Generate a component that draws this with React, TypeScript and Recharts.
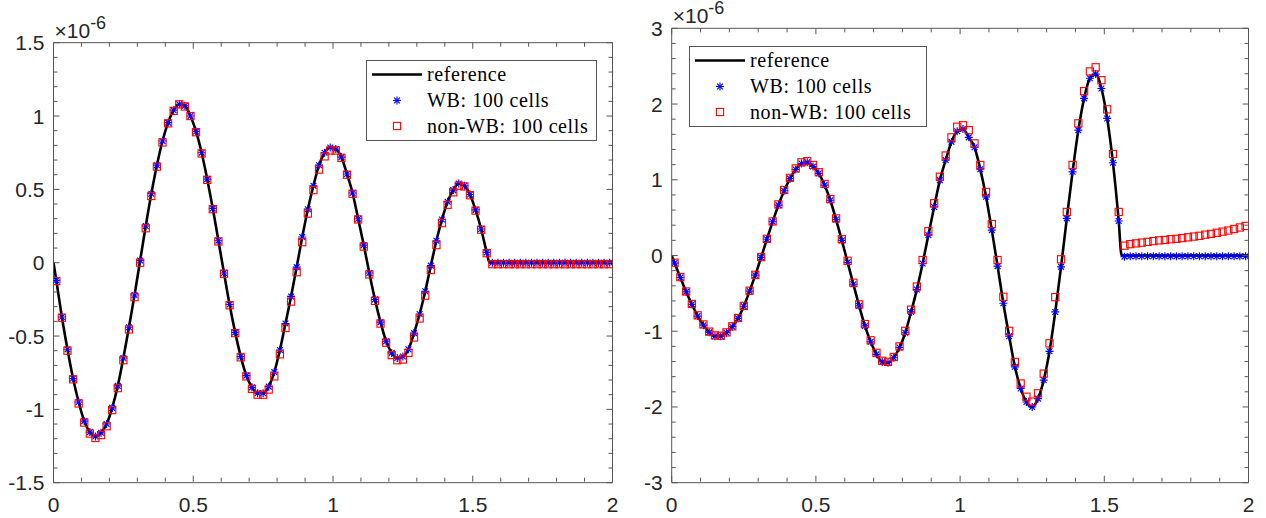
import React from "react";
import { ComposedChart, Line, Scatter, XAxis, YAxis, Legend } from "recharts";

// cell centres of the 100-cell grid on [0, 2]
const cellX = Array.from({ length: 100 }, (_, i) => Math.round((0.01 + 0.02 * i) * 100) / 100);

const xLabels = [0, 0.5, 1, 1.5, 2];
const leftYLabels = [-1.5, -1, -0.5, 0, 0.5, 1, 1.5];
const rightYLabels = [-3, -2, -1, 0, 1, 2, 3];
const seriesNames = ["reference", "WB: 100 cells", "non-WB: 100 cells"];
const jumpX = 1.56; // where the reference drops to zero

// values in units of 1e-6
const leftWB = [
  -0.12, -0.37, -0.59, -0.79, -0.95, -1.08, -1.155, -1.185, -1.16, -1.1,
  -0.99, -0.84, -0.65, -0.44, -0.22, 0.015, 0.25, 0.47, 0.665, 0.83,
  0.955, 1.04, 1.08, 1.07, 1.0, 0.895, 0.75, 0.57, 0.37, 0.15,
  -0.07, -0.285, -0.475, -0.64, -0.77, -0.85, -0.89, -0.89, -0.845, -0.745,
  -0.595, -0.415, -0.23, -0.03, 0.175, 0.365, 0.525, 0.665, 0.75, 0.785,
  0.775, 0.72, 0.605, 0.475, 0.3, 0.12, -0.07, -0.25, -0.405, -0.535,
  -0.615, -0.65, -0.64, -0.59, -0.48, -0.35, -0.195, -0.02, 0.15, 0.295,
  0.415, 0.495, 0.54, 0.525, 0.465, 0.36, 0.23, 0.07, 0, 0,
  0, 0, 0, 0, 0, 0, 0, 0, 0, 0,
  0, 0, 0, 0, 0, 0, 0, 0, 0, 0,
];
const leftNonWB = [
  -0.125, -0.375, -0.6, -0.795, -0.96, -1.09, -1.165, -1.195, -1.175, -1.115,
  -1.005, -0.855, -0.665, -0.455, -0.235, 0.0, 0.235, 0.455, 0.655, 0.82,
  0.95, 1.035, 1.08, 1.065, 1.0, 0.89, 0.745, 0.565, 0.365, 0.145,
  -0.075, -0.29, -0.48, -0.645, -0.775, -0.86, -0.9, -0.9, -0.865, -0.775,
  -0.625, -0.445, -0.265, -0.065, 0.14, 0.335, 0.495, 0.635, 0.725, 0.765,
  0.765, 0.715, 0.6, 0.47, 0.295, 0.11, -0.08, -0.26, -0.415, -0.545,
  -0.63, -0.665, -0.66, -0.615, -0.51, -0.38, -0.225, -0.05, 0.12, 0.27,
  0.395, 0.48, 0.525, 0.52, 0.46, 0.355, 0.225, 0.065, -0.01, -0.01,
  -0.01, -0.01, -0.01, -0.01, -0.01, -0.01, -0.01, -0.01, -0.01, -0.01,
  -0.01, -0.01, -0.01, -0.01, -0.01, -0.01, -0.01, -0.01, -0.01, -0.01,
];
const rightWB = [
  -0.1, -0.29, -0.48, -0.645, -0.8, -0.92, -1.015, -1.065, -1.065, -1.02,
  -0.94, -0.83, -0.67, -0.47, -0.26, -0.025, 0.215, 0.445, 0.665, 0.855,
  1.015, 1.135, 1.215, 1.23, 1.175, 1.085, 0.93, 0.73, 0.475, 0.2,
  -0.09, -0.38, -0.665, -0.93, -1.14, -1.305, -1.405, -1.415, -1.35, -1.215,
  -1.02, -0.745, -0.45, -0.105, 0.27, 0.64, 0.995, 1.26, 1.5, 1.64,
  1.67, 1.56, 1.43, 1.14, 0.775, 0.335, -0.14, -0.63, -1.065, -1.47,
  -1.755, -1.935, -2.0, -1.89, -1.645, -1.265, -0.745, -0.15, 0.49, 1.105,
  1.655, 2.075, 2.34, 2.395, 2.205, 1.81, 1.225, 0.455, -0.015, -0.01,
  -0.01, -0.01, -0.01, -0.01, -0.01, -0.01, -0.01, -0.01, -0.01, -0.01,
  -0.01, -0.01, -0.01, -0.01, -0.01, -0.01, -0.01, -0.01, -0.01, -0.01,
];
const rightNonWB = [
  -0.095, -0.285, -0.475, -0.64, -0.79, -0.91, -1.005, -1.055, -1.06, -1.015,
  -0.935, -0.825, -0.665, -0.465, -0.255, -0.02, 0.22, 0.45, 0.675, 0.865,
  1.025, 1.15, 1.23, 1.245, 1.195, 1.1, 0.945, 0.745, 0.49, 0.215,
  -0.07, -0.36, -0.645, -0.905, -1.12, -1.285, -1.39, -1.405, -1.34, -1.2,
  -0.995, -0.715, -0.41, -0.06, 0.32, 0.69, 1.04, 1.32, 1.56, 1.7,
  1.72, 1.655, 1.48, 1.195, 0.84, 0.415, -0.06, -0.545, -0.995, -1.405,
  -1.69, -1.865, -1.93, -1.82, -1.56, -1.16, -0.55, -0.05, 0.575, 1.195,
  1.745, 2.17, 2.43, 2.485, 2.315, 1.93, 1.34, 0.575, 0.13, 0.15,
  0.16, 0.17, 0.18, 0.19, 0.2, 0.205, 0.215, 0.22, 0.23, 0.24,
  0.25, 0.26, 0.275, 0.285, 0.3, 0.315, 0.33, 0.35, 0.37, 0.39,
];

const AXIS = "#555555";
const TEXT = "#262626";
const SANS = "'Liberation Sans', Arial, Helvetica, sans-serif";
const SERIF = "'Liberation Serif', 'Times New Roman', serif";
const AX = 1; // thickness given to each axis box (a 0-sized axis is not drawn)

const toPoints = (xs: number[], ys: number[]) => xs.map((x, i) => ({ x, y: ys[i] }));

// the black curve runs through the WB stars up to the jump, then sits on zero
const refPoints = (wb: number[]) => {
  const n = cellX.filter((x) => x < jumpX).length;
  return toPoints([0, ...cellX.slice(0, n), jumpX, 2], [0, ...wb.slice(0, n), 0, 0]);
};

const steps = (lo: number, hi: number, step: number) => {
  const out: number[] = [];
  const n = Math.round((hi - lo) / step);
  for (let k = 0; k <= n; k++) out.push(Math.round((lo + k * step) * 1000) / 1000);
  return out;
};

const isMajor = (v: number, majors: number[]) => majors.some((m) => Math.abs(m - v) < 1e-6);

function tickRenderer(side: "bottom" | "top" | "left" | "right", majors: number[]) {
  return (props: any) => {
    const { payload } = props;
    let { x, y } = props;
    if (side === "bottom") y = y - AX;
    const v = payload.value as number;
    const major = isMajor(v, majors);
    const len = major ? 6 : 4;
    let x2 = x;
    let y2 = y;
    if (side === "bottom") y2 = y - len;
    if (side === "top") y2 = y + len;
    if (side === "left") x2 = x + len;
    if (side === "right") x2 = x - len;
    return (
      <g>
        <line x1={x} y1={y} x2={x2} y2={y2} stroke={AXIS} strokeWidth={1} />
        {major && side === "bottom" && (
          <text x={x} y={y + 30.5} textAnchor="middle" fontFamily={SANS} fontSize={21} fill={TEXT}>
            {String(v)}
          </text>
        )}
        {major && side === "left" && (
          <text x={x - 9} y={y + 7.5} textAnchor="end" fontFamily={SANS} fontSize={21} fill={TEXT}>
            {String(v)}
          </text>
        )}
      </g>
    );
  };
}

const Star = (props: any) => {
  const { cx, cy } = props;
  const r = 4;
  const d = r * 0.72;
  return (
    <g stroke="#0000ff" strokeWidth={1.15}>
      <line x1={cx - r} y1={cy} x2={cx + r} y2={cy} />
      <line x1={cx} y1={cy - r} x2={cx} y2={cy + r} />
      <line x1={cx - d} y1={cy - d} x2={cx + d} y2={cy + d} />
      <line x1={cx - d} y1={cy + d} x2={cx + d} y2={cy - d} />
    </g>
  );
};

const Square = (props: any) => {
  const { cx, cy } = props;
  return <rect x={cx - 3.6} y={cy - 3.6} width={7.2} height={7.2} fill="none" stroke="#ff0000" strokeWidth={1.1} />;
};

function LegendBox({ width }: { width: number }) {
  const rows = [14.5, 40.5, 66];
  return (
    <svg width={width} height={81} style={{ display: "block" }}>
      <rect x={0.5} y={0.5} width={width - 1} height={80} fill="#ffffff" stroke={AXIS} strokeWidth={1} />
      <line x1={6} x2={56} y1={rows[0]} y2={rows[0]} stroke="#000000" strokeWidth={2.6} />
      <Star cx={31} cy={rows[1]} />
      <Square cx={31} cy={rows[2]} />
      {seriesNames.map((name, k) => (
        <text key={name} x={61} y={rows[k] + 6.5} fontFamily={SERIF} fontSize={20} letterSpacing={0.6} fill="#000000">
          {name}
        </text>
      ))}
    </svg>
  );
}

type PanelProps = {
  left: number;
  width: number;
  plot: { top: number; right: number; bottom: number; left: number };
  yLabels: number[];
  yStep: number;
  wb: number[];
  nonWB: number[];
  legendPos: { left: number; top: number; width: number };
};

function Panel({ left, width, plot, yLabels, yStep, wb, nonWB, legendPos }: PanelProps) {
  const height = 518;
  const yLo = yLabels[0];
  const yHi = yLabels[yLabels.length - 1];
  const xTicks = steps(0, 2, 0.1);
  const yTicks = steps(yLo, yHi, yStep);
  const margin = { top: plot.top - AX, right: plot.right - AX, bottom: plot.bottom - AX, left: plot.left - AX };
  return (
    <div style={{ position: "absolute", left, top: 0, width, height }}>
      <ComposedChart width={width} height={height} margin={margin}>
        <XAxis xAxisId="b" dataKey="x" type="number" domain={[0, 2]} ticks={xTicks} interval={0}
          orientation="bottom" height={AX} tickSize={0} tickMargin={0} tickLine={false}
          axisLine={{ stroke: AXIS }} tick={tickRenderer("bottom", xLabels)} allowDataOverflow />
        <XAxis xAxisId="t" dataKey="x" type="number" domain={[0, 2]} ticks={xTicks} interval={0}
          orientation="top" height={AX} tickSize={0} tickMargin={0} tickLine={false}
          axisLine={{ stroke: AXIS }} tick={tickRenderer("top", xLabels)} allowDataOverflow />
        <YAxis yAxisId="l" dataKey="y" type="number" domain={[yLo, yHi]} ticks={yTicks} interval={0}
          orientation="left" width={AX} tickSize={0} tickMargin={0} tickLine={false}
          axisLine={{ stroke: AXIS }} tick={tickRenderer("left", yLabels)} allowDataOverflow />
        <YAxis yAxisId="r" dataKey="y" type="number" domain={[yLo, yHi]} ticks={yTicks} interval={0}
          orientation="right" width={AX} tickSize={0} tickMargin={0} tickLine={false}
          axisLine={{ stroke: AXIS }} tick={tickRenderer("right", yLabels)} allowDataOverflow />
        <Line data={refPoints(wb)} dataKey="y" xAxisId="b" yAxisId="l" type="monotone" stroke="#000000"
          strokeWidth={2.6} dot={false} activeDot={false} isAnimationActive={false} name={seriesNames[0]} />
        <Scatter data={toPoints(cellX, wb)} dataKey="y" xAxisId="b" yAxisId="l" shape={Star}
          isAnimationActive={false} name={seriesNames[1]} />
        <Scatter data={toPoints(cellX, nonWB)} dataKey="y" xAxisId="b" yAxisId="l" shape={Square}
          isAnimationActive={false} name={seriesNames[2]} />
        <Legend layout="horizontal" verticalAlign="middle" align="center"
          wrapperStyle={{ position: "absolute", left: legendPos.left, top: legendPos.top, width: legendPos.width, height: 81 }}
          content={() => <LegendBox width={legendPos.width} />} />
      </ComposedChart>
      <div style={{ position: "absolute", left: plot.left + 1, top: plot.top - 22, fontFamily: SANS, fontSize: 21, lineHeight: "20px", color: TEXT, whiteSpace: "nowrap" }}>
        ×10<span style={{ position: "relative", top: -9, fontSize: 18 }}>-6</span>
      </div>
    </div>
  );
}

export default function App() {
  return (
    <div style={{ position: "absolute", left: 0, top: 0, width: 1266, height: 518, background: "#ffffff" }}>
      <Panel left={0} width={630} plot={{ top: 42.7, right: 17.5, bottom: 35.3, left: 53.5 }}
        yLabels={leftYLabels} yStep={0.1} wb={leftWB} nonWB={leftNonWB}
        legendPos={{ left: 366, top: 60, width: 231 }} />
      <Panel left={630} width={636} plot={{ top: 28.3, right: 17.5, bottom: 35.3, left: 41.7 }}
        yLabels={rightYLabels} yStep={0.2} wb={rightWB} nonWB={rightNonWB}
        legendPos={{ left: 59.3, top: 46, width: 238 }} />
    </div>
  );
}
